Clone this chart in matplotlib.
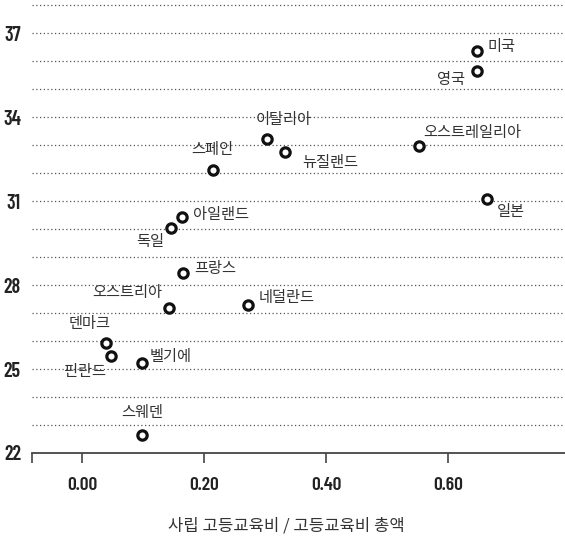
import matplotlib
matplotlib.use("Agg")
import matplotlib.pyplot as plt

countries = ["미국", "영국", "오스트레일리아", "일본", "이탈리아", "뉴질랜드", "스페인",
             "아일랜드", "독일", "프랑스", "오스트리아", "네덜란드", "덴마크", "핀란드",
             "벨기에", "스웨덴"]
private_share = [0.647, 0.647, 0.553, 0.664, 0.303, 0.333, 0.214,
                 0.164, 0.146, 0.166, 0.143, 0.272, 0.040, 0.048,
                 0.098, 0.099]
values = [36.37, 35.65, 32.96, 31.07, 33.21, 32.74, 32.11,
          30.43, 30.04, 28.43, 27.18, 27.29, 25.93, 25.46,
          25.21, 22.64]
# label offsets in points (dx, dy, ha)
offsets = {
    "미국": (8, 3, "left"), "영국": (-8, -6, "right"), "오스트레일리아": (3, 10, "left"),
    "일본": (7, -9, "left"), "이탈리아": (12, 14, "center"), "뉴질랜드": (12, -7, "left"),
    "스페인": (0, 15, "center"), "아일랜드": (8, 2, "left"), "독일": (-5, -10, "right"),
    "프랑스": (8, 3, "left"), "오스트리아": (-5, 11, "right"), "네덜란드": (8, 5, "left"),
    "덴마크": (-12, 14, "center"), "핀란드": (-19, -11, "center"), "벨기에": (6, 5, "left"),
    "스웨덴": (0, 16, "center"),
}
yticks = [22, 25, 28, 31, 34, 37]
xticks = [0.0, 0.2, 0.4, 0.6]

num_font = ["Barlow Condensed", "DejaVu Sans"]
kr_font = ["Noto Sans CJK KR", "DejaVu Sans"]

fig = plt.figure(figsize=(5.65, 5.38), dpi=100)
ax = fig.add_axes([32 / 565, 1 - 453 / 538, 533 / 565, 453 / 538])
ax.set_xlim(-0.082, 0.792)
ax.set_ylim(22, 38.18)

for y in range(23, 39):
    ax.axhline(y, color="#555555", lw=0.9, ls=(0, (1, 2)), zorder=1)

ax.scatter(private_share, values, s=45, facecolor="white", edgecolor="#111111",
           linewidth=2.3, zorder=3)

for name, x, y in zip(countries, private_share, values):
    dx, dy, ha = offsets[name]
    ax.annotate(name, (x, y), xytext=(dx, dy), textcoords="offset points",
                ha=ha, va="center", fontsize=11, family=kr_font, color="#333333",
                zorder=4)

for s in ["top", "right", "left"]:
    ax.spines[s].set_visible(False)
ax.spines["bottom"].set_color("#444444")
ax.spines["bottom"].set_linewidth(1.3)

ax.set_xticks(xticks)
ax.set_xticklabels(["%.2f" % v for v in xticks], fontsize=14, family=num_font,
                   fontweight="semibold", color="#222222")
ax.set_xticks([-0.082], minor=True)
ax.tick_params(axis="x", which="both", length=7, width=1.2, color="#444444", pad=10)

ax.set_yticks(yticks)
ax.set_yticklabels([str(v) for v in yticks], fontsize=14.5, family=num_font,
                   fontweight="semibold", color="#222222")
ax.tick_params(axis="y", length=0, pad=8)

ax.set_xlabel("사립 고등교육비 / 고등교육비 총액", fontsize=12, family=kr_font,
              color="#333333")
ax.xaxis.set_label_coords(0.477, -0.142)

fig.savefig("out.png", dpi=100)
